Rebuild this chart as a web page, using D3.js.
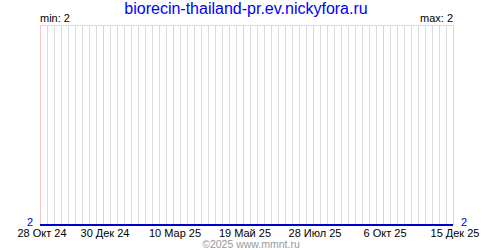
<!DOCTYPE html>
<html>
<head>
<meta charset="utf-8">
<script src="https://cdn.jsdelivr.net/npm/d3@7"></script>
<style>
  body { margin: 0; background: #fff; }
  svg text { font-family: "Liberation Sans", Arial, sans-serif; }
</style>
</head>
<body>
<div id="chart"></div>
<script>
// data
const siteName = "biorecin-thailand-pr.ev.nickyfora.ru";
const pointDates = ["2024-10-28", "2025-12-15"];
const pointValues = [2, 2];
const tickDates = ["2024-10-28", "2024-12-30", "2025-03-10", "2025-05-19", "2025-07-28", "2025-10-06", "2025-12-15"];
const tickLabels = ["28 Окт 24", "30 Дек 24", "10 Мар 25", "19 Май 25", "28 Июл 25", "6 Окт 25", "15 Дек 25"];
const copyright = "©2025 www.mmnt.ru";

const width = 500, height = 250;
const plotLeft = 40, plotRight = 453, plotTop = 25, plotBottom = 225;

const parse = d3.utcParse("%Y-%m-%d");
const pts = pointDates.map((d, i) => ({ date: parse(d), value: pointValues[i] }));
const ticks = tickDates.map(parse);

const minV = d3.min(pointValues), maxV = d3.max(pointValues);

const x = d3.scaleUtc()
  .domain([parse(pointDates[0]), parse(pointDates[pointDates.length - 1])])
  .range([plotLeft, plotRight]);

const y = d3.scaleLinear()
  .domain([minV, maxV > minV ? maxV : minV + 1])
  .range([plotBottom, plotTop]);

const svg = d3.select("#chart").append("svg")
  .attr("width", width)
  .attr("height", height);

// weekly grid
const weeks = d3.utcMonday.range(x.domain()[0], d3.utcDay.offset(x.domain()[1], 1));
svg.append("g")
  .selectAll("line").data(weeks)
  .enter().append("line")
    .attr("x1", d => Math.round(x(d)) + 0.5)
    .attr("x2", d => Math.round(x(d)) + 0.5)
    .attr("y1", plotTop)
    .attr("y2", plotBottom)
    .attr("stroke", "#dcdcdc");

// top border
svg.append("line")
  .attr("x1", plotLeft).attr("x2", plotRight + 1)
  .attr("y1", plotTop + 0.5).attr("y2", plotTop + 0.5)
  .attr("stroke", "#dcdcdc");

// labelled ticks (pink)
svg.append("g")
  .selectAll("line").data(ticks)
  .enter().append("line")
    .attr("x1", d => Math.round(x(d)) + 0.5)
    .attr("x2", d => Math.round(x(d)) + 0.5)
    .attr("y1", plotTop)
    .attr("y2", plotBottom)
    .attr("stroke", "#ffc4c4");

svg.append("g")
  .selectAll("text").data(ticks)
  .enter().append("text")
    .attr("x", d => x(d) + 2)
    .attr("y", 236.5)
    .attr("text-anchor", "middle")
    .attr("font-size", 11)
    .attr("fill", "#000")
    .text((d, i) => tickLabels[i]);

// series line
const line = d3.line()
  .x(d => x(d.date))
  .y(d => y(d.value));

svg.append("path")
  .datum(pts)
  .attr("d", line)
  .attr("fill", "none")
  .attr("stroke", "#0000cc")
  .attr("stroke-width", 2);

// title and min/max
svg.append("text")
  .attr("x", 246).attr("y", 14)
  .attr("text-anchor", "middle")
  .attr("font-size", 16)
  .attr("fill", "#0000ff")
  .text(siteName);

svg.append("text")
  .attr("x", plotLeft).attr("y", 22)
  .attr("font-size", 11)
  .text("min: " + minV);

svg.append("text")
  .attr("x", plotRight).attr("y", 22)
  .attr("text-anchor", "end")
  .attr("font-size", 11)
  .text("max: " + maxV);

// value labels at both ends
svg.append("text")
  .attr("x", 33).attr("y", y(pointValues[0]) + 1)
  .attr("text-anchor", "end")
  .attr("font-size", 11)
  .attr("fill", "#0000cc")
  .text(pointValues[0]);

svg.append("text")
  .attr("x", 461).attr("y", y(pointValues[pointValues.length - 1]) + 1)
  .attr("font-size", 11)
  .attr("fill", "#0000cc")
  .text(pointValues[pointValues.length - 1]);

svg.append("text")
  .attr("x", 251).attr("y", 247.5)
  .attr("text-anchor", "middle")
  .attr("font-size", 10.5)
  .attr("fill", "#999")
  .text(copyright);
</script>
</body>
</html>
